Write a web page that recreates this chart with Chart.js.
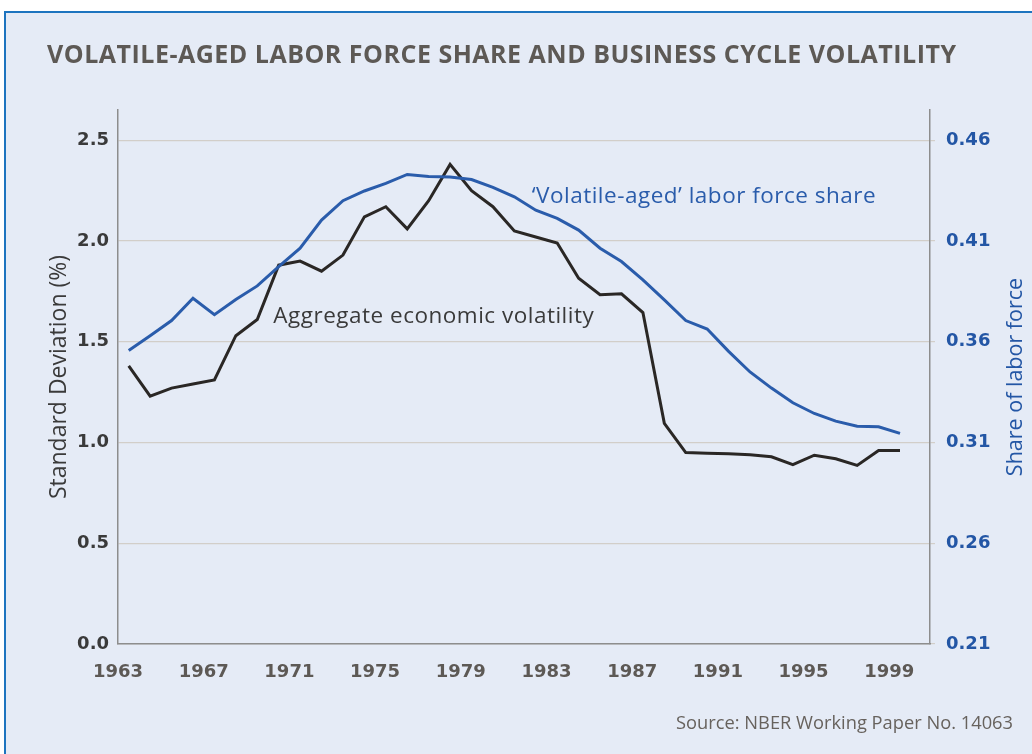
<!DOCTYPE html>
<html>
<head>
<meta charset="utf-8">
<title>Volatile-aged labor force share</title>
<script src="https://cdn.jsdelivr.net/npm/chart.js@4.4.1/dist/chart.umd.min.js"></script>
<style>
  html, body { margin: 0; padding: 0; background: #ffffff; }
  canvas { display: block; }
</style>
</head>
<body>
<canvas id="graficoVolatilidade" width="1032" height="754"></canvas>
<script>
// ==========================
// DATA
// ==========================
const years = [
  1963, 1964, 1965, 1966, 1967, 1968, 1969, 1970, 1971, 1972,
  1973, 1974, 1975, 1976, 1977, 1978, 1979, 1980, 1981, 1982,
  1983, 1984, 1985, 1986, 1987, 1988, 1989, 1990, 1991, 1992,
  1993, 1994, 1995, 1996, 1997, 1998, 1999,
];

// standard deviation (%), left axis
const aggregateVolatility = [
  1.38, 1.23, 1.27, 1.29, 1.31, 1.53, 1.61, 1.88, 1.90, 1.85,
  1.93, 2.12, 2.17, 2.06, 2.20, 2.38, 2.25, 2.17, 2.05, 2.02,
  1.99, 1.815, 1.733, 1.738, 1.645, 1.095, 0.95, 0.947, 0.944, 0.939,
  0.929, 0.89, 0.937, 0.919, 0.886, 0.96, 0.96,
];

// share of labor force, right axis
const volatileAgedShare = [
  0.3557, 0.363, 0.3705, 0.3816, 0.3734, 0.381, 0.3877, 0.3973, 0.4064, 0.4204,
  0.430, 0.4348, 0.4386, 0.443, 0.442, 0.4418, 0.4405, 0.4366, 0.4319, 0.4253,
  0.4212, 0.4154, 0.4064, 0.3998, 0.3907, 0.3808, 0.3705, 0.3663, 0.3552, 0.345,
  0.337, 0.3297, 0.3244, 0.3206, 0.3181, 0.3178, 0.3145,
];

const yearTicks = [1963, 1967, 1971, 1975, 1979, 1983, 1987, 1991, 1995, 1999];
const leftTicks = [0, 0.5, 1.0, 1.5, 2.0, 2.5];
const rightTicks = [0.21, 0.26, 0.31, 0.36, 0.41, 0.46];

// annual values are plotted at mid-year
const MID_YEAR = 0.5;

// ==========================
// STYLE
// ==========================
const BG = "#e5ebf6";
const FRAME_BLUE = "#1d74bf";
const LINE_BLUE = "#2a5cab";
const LINE_BLACK = "#2a2725";
const TEXT_GREY = "#5d5955";
const TEXT_DARK = "#3a3a3a";
const TICK_BLUE = "#2356a5";
const GRID = "#d2cec9";
const AXIS = "#8d8d8d";

const CHART_LEFT = 118;
const CHART_RIGHT = 930;
const CHART_TOP = 110;
const CHART_BOTTOM = 644;
const W = 1032;
const H = 754;

const annotations = [
  { text: "Aggregate economic volatility", year: 1970.25, value: 1.594, axis: "y", color: TEXT_DARK },
  { text: "\u2018Volatile-aged\u2019 labor force share", year: 1982.31, value: 2.189, axis: "y", color: LINE_BLUE },
];

const toPoints = (values) => values.map((v, i) => ({ x: years[i] + MID_YEAR, y: v }));

// ==========================
// PLUGIN: frame, title, notes
// ==========================
const decorPlugin = {
  id: "decor",
  beforeDraw(chart) {
    const ctx = chart.ctx;
    ctx.save();
    ctx.fillStyle = "#ffffff";
    ctx.fillRect(0, 0, W, H);
    ctx.fillStyle = BG;
    ctx.fillRect(5, 12, W - 5, H - 12);
    ctx.strokeStyle = FRAME_BLUE;
    ctx.lineWidth = 2;
    ctx.beginPath();
    ctx.moveTo(W, 12);
    ctx.lineTo(5, 12);
    ctx.lineTo(5, H);
    ctx.stroke();
    ctx.restore();
  },
  afterDraw(chart) {
    const ctx = chart.ctx;
    ctx.save();
    ctx.textBaseline = "alphabetic";

    // title
    ctx.fillStyle = TEXT_GREY;
    ctx.font = "700 25px 'Open Sans'";
    ctx.letterSpacing = "0.5px";
    ctx.textAlign = "left";
    ctx.fillText("VOLATILE-AGED LABOR FORCE SHARE AND BUSINESS CYCLE VOLATILITY", 47, 63, 910);

    // source
    ctx.letterSpacing = "0px";
    ctx.font = "400 18.5px 'Open Sans'";
    ctx.textAlign = "right";
    ctx.fillStyle = "#67625d";
    ctx.fillText("Source: NBER Working Paper No. 14063", 1013, 729, 337);

    // series labels
    ctx.letterSpacing = "0.5px";
    ctx.textAlign = "left";
    ctx.font = "400 22.5px 'Open Sans'";
    annotations.forEach((a) => {
      const x = chart.scales.x.getPixelForValue(a.year);
      const y = chart.scales[a.axis].getPixelForValue(a.value);
      ctx.fillStyle = a.color;
      ctx.fillText(a.text, x, y);
    });

    // right axis title, reads bottom to top
    ctx.letterSpacing = "0px";
    const yMid = (chart.chartArea.top + chart.chartArea.bottom) / 2;
    ctx.translate(1016, yMid);
    ctx.rotate(-Math.PI / 2);
    ctx.textAlign = "center";
    ctx.textBaseline = "middle";
    ctx.font = "400 21.5px 'Open Sans'";
    ctx.fillStyle = TICK_BLUE;
    ctx.fillText("Share of labor force", 0, 0);
    ctx.restore();
  },
};

// ==========================
// CHART
// ==========================
const canvas = document.getElementById("graficoVolatilidade");

new Chart(canvas, {
  type: "line",
  data: {
    datasets: [
      {
        label: "Volatile-aged labor force share",
        data: toPoints(volatileAgedShare),
        yAxisID: "y1",
        borderColor: LINE_BLUE,
        borderWidth: 3,
        pointRadius: 0,
        tension: 0,
        fill: false,
      },
      {
        label: "Aggregate economic volatility",
        data: toPoints(aggregateVolatility),
        yAxisID: "y",
        borderColor: LINE_BLACK,
        borderWidth: 3,
        pointRadius: 0,
        tension: 0,
        fill: false,
      },
    ],
  },
  options: {
    responsive: false,
    animation: false,
    devicePixelRatio: 1,
    layout: { padding: { top: CHART_TOP, left: 0, right: 0, bottom: 0 } },
    plugins: {
      legend: { display: false },
      tooltip: { enabled: false },
    },
    scales: {
      x: {
        type: "linear",
        min: 1963,
        max: 2000.9,
        afterBuildTicks: (s) => { s.ticks = yearTicks.map((v) => ({ value: v })); },
        afterFit: (s) => { s.height = H - CHART_BOTTOM; },
        ticks: {
          color: TEXT_GREY,
          padding: 10,
          maxRotation: 0,
          font: { family: "'DejaVu Sans'", size: 18, weight: "bold" },
          callback: (v) => String(v),
        },
        grid: { display: false },
        border: { display: true, color: AXIS, width: 1.5 },
      },
      y: {
        position: "left",
        min: 0,
        max: 2.65,
        afterBuildTicks: (s) => { s.ticks = leftTicks.map((v) => ({ value: v })); },
        afterFit: (s) => { s.width = CHART_LEFT; },
        ticks: {
          color: TEXT_DARK,
          padding: 9,
          font: { family: "'DejaVu Sans'", size: 18, weight: "bold" },
          callback: (v) => v.toFixed(1),
        },
        grid: { color: GRID, lineWidth: 1.2, drawTicks: false },
        border: { display: true, color: AXIS, width: 1.5 },
        title: {
          display: true,
          text: "Standard Deviation (%)",
          color: TEXT_DARK,
          font: { family: "'Open Sans'", size: 23 },
          padding: { top: 46, bottom: 0 },
        },
      },
      y1: {
        position: "right",
        min: 0.21,
        max: 0.475,
        afterBuildTicks: (s) => { s.ticks = rightTicks.map((v) => ({ value: v })); },
        afterFit: (s) => { s.width = W - CHART_RIGHT; },
        ticks: {
          color: TICK_BLUE,
          padding: 11,
          font: { family: "'DejaVu Sans'", size: 18, weight: "bold" },
          callback: (v) => v.toFixed(2),
        },
        grid: { color: GRID, lineWidth: 1.2, drawOnChartArea: false, drawTicks: true, tickLength: 5 },
        border: { display: true, color: AXIS, width: 1.5 },
        title: { display: false },
      },
    },
  },
  plugins: [decorPlugin],
});
</script>
</body>
</html>
